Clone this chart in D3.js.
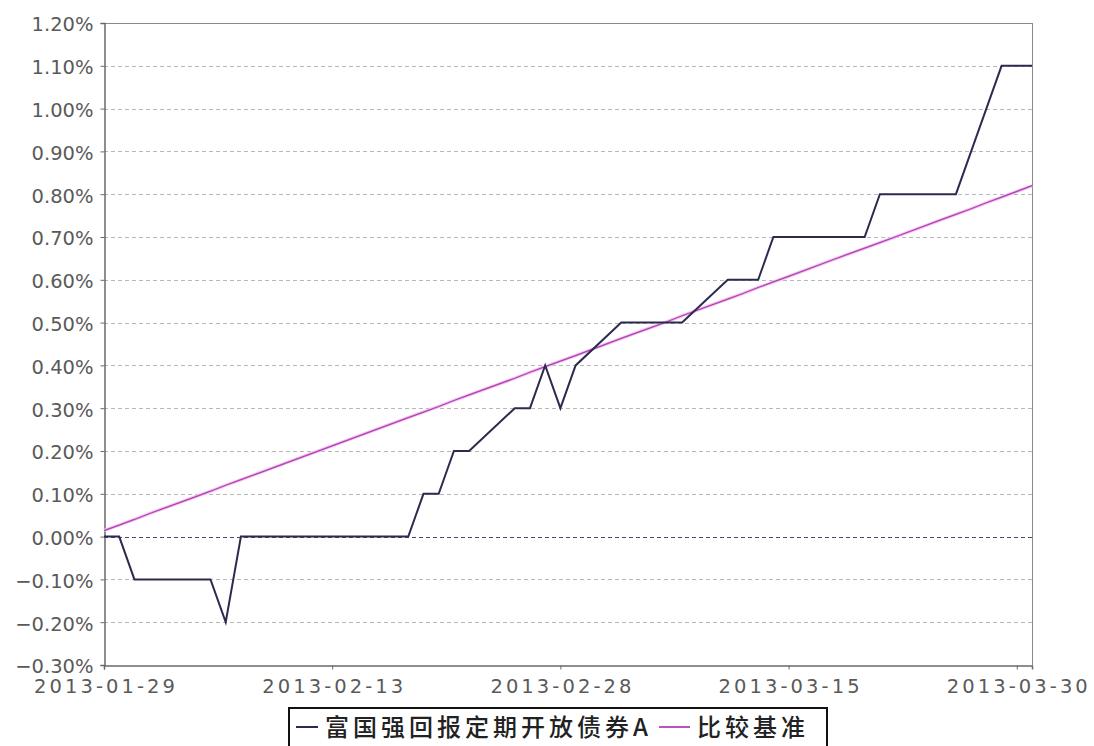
<!DOCTYPE html>
<html>
<head>
<meta charset="utf-8">
<script src="https://cdnjs.cloudflare.com/ajax/libs/d3/7.8.5/d3.min.js"></script>
<style>
  body { margin: 0; background: #fff; }
  svg { display: block; }
</style>
</head>
<body>
<div class="canva"></div>
<script>
// trading days shown on the chart
const dates = [
  "2013-01-29","2013-01-30","2013-01-31","2013-02-01","2013-02-04","2013-02-05","2013-02-06","2013-02-07","2013-02-08",
  "2013-02-18","2013-02-19","2013-02-20","2013-02-21","2013-02-22","2013-02-25","2013-02-26","2013-02-27","2013-02-28",
  "2013-03-01","2013-03-04","2013-03-05","2013-03-06","2013-03-07","2013-03-08","2013-03-11","2013-03-12","2013-03-13",
  "2013-03-14","2013-03-15","2013-03-18","2013-03-19","2013-03-20","2013-03-21","2013-03-22","2013-03-25","2013-03-26",
  "2013-03-27","2013-03-28","2013-03-29","2013-03-31"
];

// 富国强回报定期开放债券A (%)
const fundValues = [
  0.00, 0.00, -0.10, -0.10, -0.10, -0.10, -0.20, 0.00, 0.00,
  0.00, 0.10, 0.10, 0.20, 0.20, 0.30, 0.30, 0.40, 0.30,
  0.40, 0.50, 0.50, 0.50, 0.50, 0.50, 0.60, 0.60, 0.60,
  0.70, 0.70, 0.70, 0.70, 0.70, 0.80, 0.80, 0.80, 0.80,
  0.90, 1.00, 1.10, 1.10
];

// 比较基准 (%)
const benchValues = [
  0.014, 0.027, 0.040, 0.054, 0.093, 0.106, 0.120, 0.133, 0.146,
  0.278, 0.291, 0.304, 0.318, 0.331, 0.370, 0.384, 0.397, 0.410,
  0.423, 0.463, 0.476, 0.489, 0.502, 0.516, 0.555, 0.568, 0.582,
  0.595, 0.608, 0.648, 0.661, 0.674, 0.687, 0.700, 0.740, 0.753,
  0.766, 0.780, 0.793, 0.820
];

const xTickLabels = ["2013-01-29","2013-02-13","2013-02-28","2013-03-15","2013-03-30"];
const yTickValues = [-0.3,-0.2,-0.1,0,0.1,0.2,0.3,0.4,0.5,0.6,0.7,0.8,0.9,1.0,1.1,1.2];
const seriesNames = ["富国强回报定期开放债券A", "比较基准"];

const parse = d3.timeParse("%Y-%m-%d");

const W = 1094, H = 746;
const plotLeft = 104, plotRight = 1032, plotTop = 23, plotBottom = 665;

const svg = d3.select('.canva').append('svg')
    .attr('width', W)
    .attr('height', H);

const x = d3.scaleTime()
    .domain([parse("2013-01-29"), parse("2013-03-31")])
    .range([plotLeft, plotRight]);

const y = d3.scaleLinear()
    .domain([-0.3, 1.2])
    .range([plotBottom, plotTop]);

// grid lines
svg.append('g').selectAll('line')
    .data(yTickValues.filter(v => v > -0.3 && v < 1.2))
    .enter().append('line')
    .attr('x1', plotLeft).attr('x2', plotRight)
    .attr('y1', d => Math.round(y(d)) + 0.5)
    .attr('y2', d => Math.round(y(d)) + 0.5)
    .attr('stroke', d => d === 0 ? '#4a4a7a' : '#b8b8b8')
    .attr('stroke-dasharray', '4,3')
    .attr('stroke-width', 1);

// top & right frame
svg.append('line')
    .attr('x1', plotLeft).attr('x2', plotRight)
    .attr('y1', plotTop + 0.5).attr('y2', plotTop + 0.5)
    .attr('stroke', '#8a8a8a');
svg.append('line')
    .attr('x1', plotRight + 0.5).attr('x2', plotRight + 0.5)
    .attr('y1', plotTop).attr('y2', plotBottom)
    .attr('stroke', '#8a8a8a');

// y axis
const yAxis = svg.append('g')
    .attr('transform', `translate(${plotLeft + 0.5},0)`)
    .call(d3.axisLeft(y)
        .tickValues(yTickValues)
        .tickSize(4)
        .tickPadding(7)
        .tickFormat(d => d3.format('.2f')(d) + '%'));
yAxis.select('.domain').attr('stroke', '#6a6a6a').attr('stroke-width', 1.5);
yAxis.selectAll('.tick line').attr('stroke', '#6a6a6a');
yAxis.selectAll('.tick text')
    .attr('fill', '#5a5a5a')
    .style('font-family', '"DejaVu Sans", sans-serif')
    .style('font-size', '19.5px')
    .attr('dy', '0.4em');

// x axis
const xAxis = svg.append('g')
    .attr('transform', `translate(0,${plotBottom + 0.5})`)
    .call(d3.axisBottom(x)
        .tickValues(xTickLabels.map(parse))
        .tickSize(4)
        .tickPadding(0)
        .tickFormat(d3.timeFormat('%Y-%m-%d')));
xAxis.select('.domain').attr('stroke', '#6a6a6a').attr('stroke-width', 1.5);
xAxis.selectAll('.tick line').attr('stroke', '#6a6a6a');
xAxis.selectAll('.tick text')
    .attr('fill', '#5a5a5a')
    .attr('y', 0)
    .attr('dy', '27px')
    .attr('textLength', 141)
    .attr('lengthAdjust', 'spacing')
    .style('font-family', '"DejaVu Sans", sans-serif')
    .style('font-size', '19.5px');

// lines
const fundData = dates.map((d, i) => ({date: parse(d), value: fundValues[i]}));
const benchData = dates.map((d, i) => ({date: parse(d), value: benchValues[i]}));

const line = d3.line()
    .x(d => x(d.date))
    .y(d => y(d.value));

svg.append('path')
    .datum(benchData)
    .attr('d', line)
    .attr('fill', 'none')
    .attr('stroke', '#f3c0f3')
    .attr('stroke-width', 3.2);
svg.append('path')
    .datum(benchData)
    .attr('d', line)
    .attr('fill', 'none')
    .attr('stroke', '#b040b0')
    .attr('stroke-width', 1.3);

svg.append('path')
    .datum(fundData)
    .attr('d', line)
    .attr('fill', 'none')
    .attr('stroke', '#2b2b4f')
    .attr('stroke-width', 2);

// legend
const lg = svg.append('g');
lg.append('rect')
    .attr('x', 289).attr('y', 708)
    .attr('width', 538).attr('height', 40)
    .attr('fill', '#fff')
    .attr('stroke', '#111')
    .attr('stroke-width', 2);

const legendItems = [
  {name: seriesNames[0], color: '#2b2b4f', x0: 296, len: 22},
  {name: seriesNames[1], color: '#c050c0', x0: 659, len: 31}
];
legendItems.forEach(it => {
  lg.append('line')
      .attr('x1', it.x0).attr('x2', it.x0 + it.len)
      .attr('y1', 727).attr('y2', 727)
      .attr('stroke', it.color)
      .attr('stroke-width', 2);
  lg.append('text')
      .attr('x', it.x0 + it.len + 7)
      .attr('y', 736)
      .attr('fill', '#222')
      .style('font-family', '"Noto Sans CJK SC", sans-serif')
      .style('font-size', '24px')
      .style('font-weight', '500')
      .style('letter-spacing', '4px')
      .text(it.name);
});
</script>
</body>
</html>
